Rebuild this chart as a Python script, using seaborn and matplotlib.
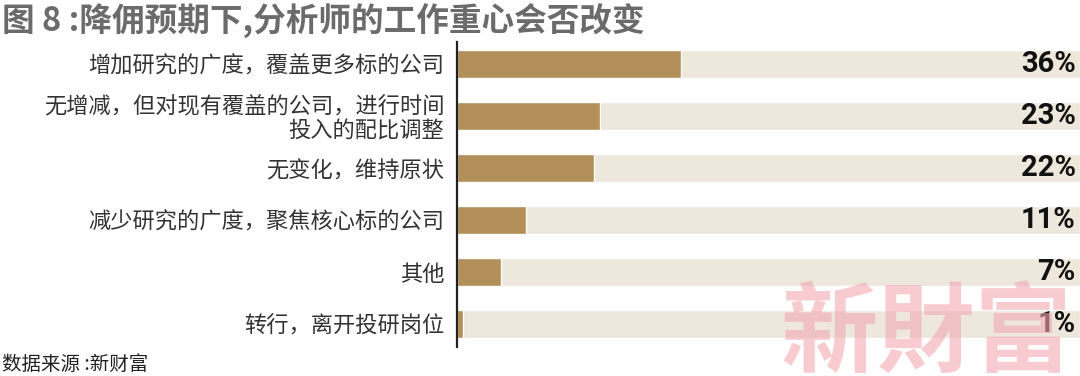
import matplotlib
matplotlib.use("Agg")
import matplotlib.pyplot as plt
import seaborn as sns
import pandas as pd

categories = [
    "增加研究的广度，覆盖更多标的公司",
    "无增减，但对现有覆盖的公司，进行时间\n投入的配比调整",
    "无变化，维持原状",
    "减少研究的广度，聚焦核心标的公司",
    "其他",
    "转行，离开投研岗位",
]
values = [36, 23, 22, 11, 7, 1]
full = [100] * len(values)
value_labels = ["36%", "23%", "22%", "11%", "7%", "1%"]

title = "图 8 :降佣预期下,分析师的工作重心会否改变"
source = "数据来源 :新财富"
watermark = "新財富"

sns.set_theme(style="white")
plt.rcParams["font.family"] = ["Noto Sans CJK SC", "DejaVu Sans"]

df = pd.DataFrame({"cat": categories, "val": values, "full": full})

fig = plt.figure(figsize=(10.8, 3.76), dpi=100)
ax = fig.add_axes([457 / 1080, 1 - 350 / 376, 1 - 457 / 1080, 312 / 376])

sns.barplot(data=df, x="full", y="cat", color="#EEE7DC", width=0.54,
            orient="h", ax=ax, saturation=1, zorder=1)
sns.barplot(data=df, x="val", y="cat", color="#B38F5A", width=0.54,
            orient="h", ax=ax, saturation=1, zorder=2)

ax.set_xlim(0, 100)
ax.set_ylim(len(categories) - 0.5, -0.5)
ax.set_xlabel("")
ax.set_ylabel("")
ax.set_xticks([])
for s in ["top", "right", "bottom"]:
    ax.spines[s].set_visible(False)
ax.spines["left"].set_color("#222222")
ax.spines["left"].set_linewidth(1.6)
ax.spines["left"].set_bounds(-0.42, 5.45)
ax.tick_params(axis="y", length=0, pad=9)
for t in ax.get_yticklabels():
    t.set_fontsize(16)
    t.set_color("#333333")
    t.set_horizontalalignment("right")
    t.set_multialignment("right")
    t.set_linespacing(1.05)

# watermark (drawn beneath the value labels)
fig.text(1072 / 1080, 1 - 336 / 376, watermark, fontsize=70, fontweight="bold",
         color="#F2A9B2", alpha=0.6, ha="right", va="center",
         family=["Noto Sans CJK TC", "DejaVu Sans"], zorder=3)

for i, lab in enumerate(value_labels):
    ax.text(99.3, i, lab, ha="right", va="center", fontsize=21,
            fontweight="bold", family=["Roboto", "DejaVu Sans"],
            color="#111111", zorder=5)

fig.text(0.002, 1 - 20 / 376, title, fontsize=23.5, fontweight="bold",
         color="#6B6B6B", ha="left", va="center",
         family=["Noto Sans CJK SC", "DejaVu Sans"])
fig.text(0.002, 1 - 364 / 376, source, fontsize=14, color="#222222",
         ha="left", va="center", family=["Noto Sans CJK SC", "DejaVu Sans"])

fig.savefig("out.png", dpi=100)
